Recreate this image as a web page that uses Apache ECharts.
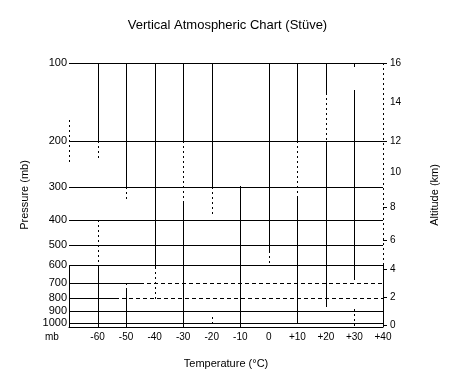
<!DOCTYPE html>
<html><head><meta charset="utf-8">
<script src="https://cdn.jsdelivr.net/npm/echarts@6/dist/echarts.min.js"></script>
<style>html,body{margin:0;padding:0;background:#fff}#c{width:455px;height:385px}</style>
</head><body><div id="c"></div>
<script>
const pressureLevels = [100, 200, 300, 400, 500, 600, 700, 800, 900, 1000];
const temperatureTicks = [-60, -50, -40, -30, -20, -10, 0, 10, 20, 30, 40];
const altitudeKm = [0, 2, 4, 6, 8, 10, 12, 14, 16];
const altitudePressure = [1018, 794, 620, 480, 358, 263, 200, 142, 100];
const altitudeTicked = [0, 2, 4, 6, 8, 12, 16];
const pressureBottom = 1036;
const tempMin = -70, tempMax = 40;

// isotherm segments: temperature (°C), upper pressure (mb), lower pressure (mb)
const solidIsoT   = [-70, -60, -60, -50, -50, -40, -30, -30, -20, -10, 0, 10, 10, 20, 20, 30, 30, 40];
const solidIsoTop = [600, 100, 600, 100, 740, 100, 100, 345, 100, 297, 100, 100, 330, 100, 200, 100, 127, 600];
const solidIsoBot = [1036, 200, 1036, 300, 1036, 610, 200, 1036, 300, 1036, 530, 200, 1000, 130, 850, 104, 683, 1036];
const dashIsoT    = [-70, -60, -60, -50, -50, -40, -30, -20, -20, 0, 10, 20, 20, 30, 40];
const dashIsoTop  = [165, 200, 400, 300, 700, 610, 200, 300, 950, 530, 200, 130, 850, 880, 100];
const dashIsoBot  = [245, 236, 600, 342, 740, 817, 345, 384, 1000, 600, 330, 200, 870, 1036, 600];

// isobar segments: pressure (mb), from (°C), to (°C)
const solidBarP    = [100, 200, 300, 400, 500, 600, 700, 800, 900, 1000];
const solidBarFrom = [-70, -70, -70, -70, -70, -70, -70, -70, -70, -70];
const solidBarTo   = [40, 40, 40, 40, 40, 40, -45, -54, 40, 40];
const dashBarP    = [700, 800];
const dashBarFrom = [-45, -54];
const dashBarTo   = [40, 40];

const FONT = 'Liberation Sans, Arial, sans-serif';
const log10 = Math.log10;

function zip3(a, b, c) { return a.map((v, i) => [v, b[i], c[i]]); }

function vRender(dashed) {
  return function (params, api) {
    const a = api.coord([api.value(0), api.value(1)]);
    const b = api.coord([api.value(0), api.value(2)]);
    const x = Math.round(a[0]) + 0.5;
    return { type: 'line', silent: true,
      shape: { x1: x, y1: Math.round(a[1]), x2: x, y2: Math.round(b[1]) },
      style: { stroke: '#000', lineWidth: 1, lineDash: dashed ? [2, 3] : null } };
  };
}
function hRender(dashed) {
  return function (params, api) {
    const a = api.coord([api.value(1), api.value(0)]);
    const b = api.coord([api.value(2), api.value(0)]);
    const y = Math.round(a[1]) + 0.5;
    return { type: 'line', silent: true,
      shape: { x1: Math.round(a[0]), y1: y, x2: Math.round(b[0]), y2: y },
      style: { stroke: '#000', lineWidth: 1, lineDash: dashed ? [4, 3] : null } };
  };
}

const chart = echarts.init(document.getElementById('c'), null, { renderer: 'canvas' });
chart.setOption({
  animation: false,
  backgroundColor: '#fff',
  title: {
    text: 'Vertical Atmospheric Chart (Stüve)', left: 'center', top: 14,
    textStyle: { fontFamily: FONT, fontSize: 13, fontWeight: 'normal', color: '#000' }
  },
  grid: { left: 69, right: 72, top: 63, bottom: 58, outerBoundsMode: 'none', containLabel: false },
  xAxis: {
    type: 'value', min: tempMin, max: tempMax,
    name: 'Temperature (°C)', nameLocation: 'middle', nameGap: 31,
    nameTextStyle: { fontFamily: FONT, fontSize: 11, color: '#000' },
    axisLine: { show: true, lineStyle: { color: '#000', width: 1 } },
    axisTick: { show: false },
    splitLine: { show: false },
    axisLabel: { customValues: temperatureTicks, margin: 5, fontFamily: FONT, fontSize: 10, color: '#000',
      formatter: v => (v > 0 ? '+' + v : String(v)) }
  },
  yAxis: [
    { type: 'log', min: pressureLevels[0], max: pressureBottom, inverse: true, show: false, logBase: 10 },
    {
      type: 'value', position: 'left', min: log10(pressureLevels[0]), max: log10(pressureBottom), inverse: true,
      name: 'Pressure (mb)', nameLocation: 'middle', nameGap: 39,
      nameTextStyle: { fontFamily: FONT, fontSize: 11, color: '#000' },
      axisLine: { show: false }, axisTick: { show: false }, splitLine: { show: false },
      axisLabel: { customValues: pressureLevels.map(log10), margin: 2, fontFamily: FONT, fontSize: 11, color: '#000',
        formatter: v => String(Math.round(Math.pow(10, v))) }
    },
    {
      type: 'value', position: 'right', min: log10(pressureLevels[0]), max: log10(pressureBottom), inverse: true,
      name: 'Altitude (km)', nameLocation: 'middle', nameGap: 46, nameRotate: 90,
      nameTextStyle: { fontFamily: FONT, fontSize: 11, color: '#000' },
      axisLine: { show: false }, splitLine: { show: false },
      axisTick: { show: true, length: 4, lineStyle: { color: '#000' },
        customValues: altitudeTicked.map(k => log10(altitudePressure[altitudeKm.indexOf(k)])) },
      axisLabel: { customValues: altitudePressure.map(log10), margin: 7, fontFamily: FONT, fontSize: 10, color: '#000',
        formatter: v => {
          let best = 0, bd = Infinity;
          altitudePressure.forEach((p, i) => { const d = Math.abs(log10(p) - v); if (d < bd) { bd = d; best = i; } });
          return String(altitudeKm[best]);
        } }
    }
  ],
  graphic: [
    { type: 'text', left: 45, top: 332, style: { text: 'mb', font: '10px ' + FONT, fill: '#000' } }
  ],
  series: [
    { type: 'custom', name: 'isobars', xAxisIndex: 0, yAxisIndex: 0, renderItem: hRender(false),
      encode: { x: [1, 2], y: 0 }, data: zip3(solidBarP, solidBarFrom, solidBarTo), silent: true },
    { type: 'custom', name: 'isobars dashed', xAxisIndex: 0, yAxisIndex: 0, renderItem: hRender(true),
      encode: { x: [1, 2], y: 0 }, data: zip3(dashBarP, dashBarFrom, dashBarTo), silent: true },
    { type: 'custom', name: 'isotherms', xAxisIndex: 0, yAxisIndex: 0, renderItem: vRender(false),
      encode: { x: 0, y: [1, 2] }, data: zip3(solidIsoT, solidIsoTop, solidIsoBot), silent: true },
    { type: 'custom', name: 'isotherms dashed', xAxisIndex: 0, yAxisIndex: 0, renderItem: vRender(true),
      encode: { x: 0, y: [1, 2] }, data: zip3(dashIsoT, dashIsoTop, dashIsoBot), silent: true }
  ]
});
</script>
</body></html>
